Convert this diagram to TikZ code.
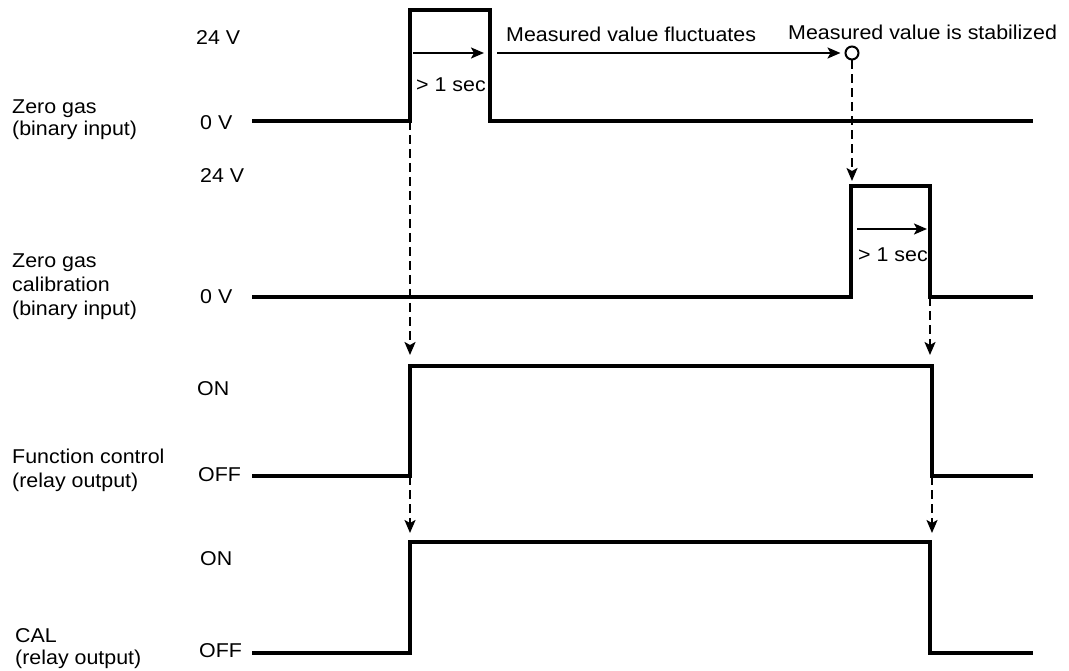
\documentclass[tikz,border=0pt]{standalone}
\usepackage{fontspec}
\setmainfont{Liberation Sans}[FakeStretch=1.07]
\usetikzlibrary{arrows.meta}
\begin{document}
\begin{tikzpicture}[x=1pt,y=-1pt,
  sig/.style={line width=3.2pt, line join=miter, line cap=butt},
  hint/.style={line width=2pt, -{Stealth[length=13pt,width=11pt,inset=3pt]}},
  guide/.style={line width=2pt, dash pattern=on 9pt off 5pt, -{Stealth[length=13pt,width=11pt,inset=3pt]}},
  lbl/.style={anchor=base west, inner sep=0pt, font=\fontsize{20}{23}\selectfont}]
\useasboundingbox (0,0) rectangle (1069,671);

% ---- key points of the signals
\coordinate (a0) at (252,121);  \coordinate (a1) at (410,121); \coordinate (a2) at (410,10);
\coordinate (a3) at (490,10);   \coordinate (a4) at (490,121); \coordinate (a5) at (1033,121);
\coordinate (b0) at (252,297);  \coordinate (b1) at (851,297); \coordinate (b2) at (851,186);
\coordinate (b3) at (930,186);  \coordinate (b4) at (930,297); \coordinate (b5) at (1033,297);
\coordinate (c0) at (252,476);  \coordinate (c1) at (410,476); \coordinate (c2) at (410,366);
\coordinate (c3) at (932,366);  \coordinate (c4) at (932,476); \coordinate (c5) at (1033,476);
\coordinate (d0) at (252,653);  \coordinate (d1) at (410,653); \coordinate (d2) at (410,542);
\coordinate (d3) at (930,542);  \coordinate (d4) at (930,653); \coordinate (d5) at (1033,653);

% ---- signals
\draw[sig] (a0) -- (a1) -- (a2) -- (a3) -- (a4) -- (a5);
\draw[sig] (b0) -- (b1) -- (b2) -- (b3) -- (b4) -- (b5);
\draw[sig] (c0) -- (c1) -- (c2) -- (c3) -- (c4) -- (c5);
\draw[sig] (d0) -- (d1) -- (d2) -- (d3) -- (d4) -- (d5);

% ---- duration arrows
\coordinate (t1s) at (413,53);  \coordinate (t1e) at (484,53);
\coordinate (t2s) at (857,229); \coordinate (t2e) at (927,229);
\draw[hint] (t1s) -- (t1e);
\draw[hint] (t2s) -- (t2e);
\node[lbl] (sec1) at (416,92) {> 1 sec};
\node[lbl] (sec2) at (858,262) {> 1 sec};

% ---- fluctuation and stabilisation
\node[circle, draw, line width=2pt, minimum size=13pt, inner sep=0pt] (stab) at (852,53) {};
\coordinate (flS) at (497,53);
\draw[hint, shorten >=4pt] (flS) -- (stab.west);
\node[lbl] (fluct) at (506,42) {Measured value fluctuates};
\node[lbl] (stabt) at (788,40) {Measured value is stabilized};

% ---- dashed guides
\coordinate (g1) at (410,355);
\coordinate (g2) at (852,181);
\coordinate (g3) at (930,355);
\coordinate (g4) at (410,533);
\coordinate (g5) at (932,533);
\draw[guide] (a1) -- (g1);
\draw[guide] (stab.south) -- (g2);
\draw[guide] (b4) -- (g3);
\draw[guide] (c1) -- (g4);
\draw[guide] (c4) -- (g5);

% ---- level labels
\node[lbl] (v24a) at (196,45) {24 V};
\node[lbl] (v0a)  at (200,130) {0 V};
\node[lbl] (v24b) at (200,183) {24 V};
\node[lbl] (v0b)  at (200,304) {0 V};
\node[lbl] (on1)  at (197,395) {ON};
\node[lbl] (off1) at (198,481) {OFF};
\node[lbl] (on2)  at (200,565) {ON};
\node[lbl] (off2) at (199,657) {OFF};

% ---- signal names
\node[lbl] (n1a) at (12,114) {Zero gas};
\node[lbl] (n1b) at (12,136) {(binary input)};
\node[lbl] (n2a) at (12,268) {Zero gas};
\node[lbl] (n2b) at (12,292) {calibration};
\node[lbl] (n2c) at (12,316) {(binary input)};
\node[lbl] (n3a) at (12,463) {Function control};
\node[lbl] (n3b) at (12,487) {(relay output)};
\node[lbl] (n4a) at (15,642) {CAL};
\node[lbl] (n4b) at (15,664) {(relay output)};
\end{tikzpicture}
\end{document}
